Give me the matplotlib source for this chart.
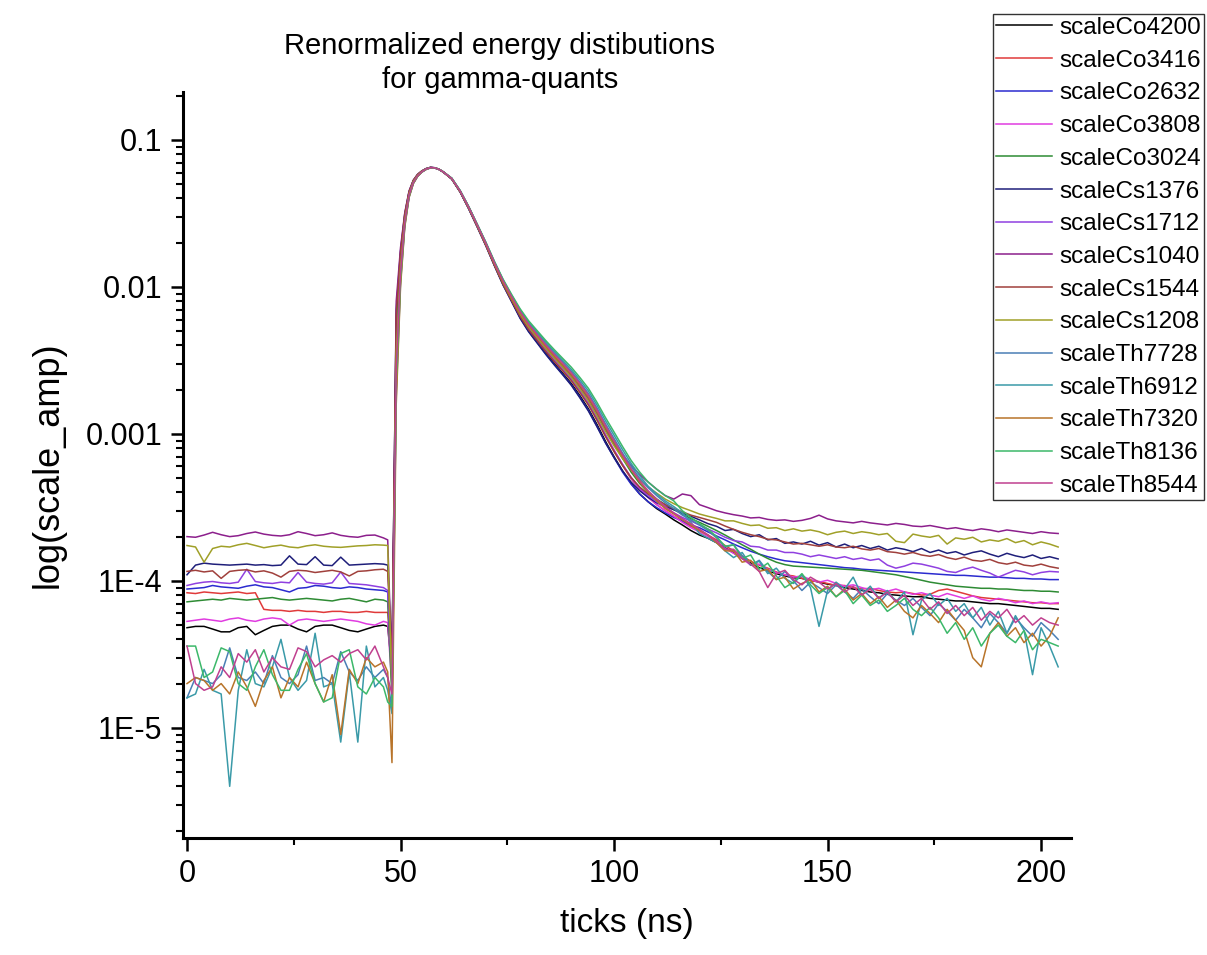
import numpy as np
import matplotlib
matplotlib.use('Agg')
import matplotlib.pyplot as plt
from matplotlib.ticker import FixedLocator, FixedFormatter, LogLocator, NullFormatter, MultipleLocator

plt.rcParams['font.family'] = ['Liberation Sans', 'DejaVu Sans']

# time axis: baseline every 2 ns, pulse every 1 ns, tail every 2 ns
ticks_ns = list(range(0, 47, 2)) + list(range(47, 61)) + list(range(62, 205, 2))

# amplitudes below are in units of 1e-5
UNIT = 1e-5

co4200 = [4.8, 4.9, 4.9, 4.7, 4.5, 4.5, 4.8, 4.9, 4.3, 4.6, 4.9, 5.0, 5.0, 4.7, 4.5, 4.9, 5.0, 5.0, 4.8, 4.6, 4.5, 4.7, 4.9, 5.0,
          4.9, 2.5,
          420, 1400, 2800, 4250, 5150, 5700, 6080, 6330, 6470, 6460, 6310, 6060,
          5420, 4420, 3420, 2580, 1930, 1410, 1050, 810, 625, 505, 425, 356, 302, 258, 220, 182, 148, 116, 89, 70,
          56, 46, 39, 34.5, 31, 28.5, 26, 24, 22, 20.5,
          19.5, 18.2, 16.8, 15.5, 14.2, 13.2, 12.3, 11.7, 11.2, 10.8, 10.5, 10.4, 10.1, 9.8, 9.5, 9.3, 9.0, 8.8, 8.6, 8.4,
          8.3, 8.1, 8.0, 7.9, 7.8, 7.8, 7.6, 7.5, 7.4, 7.3, 7.3, 7.2, 7.1, 7.0, 7.0, 6.9, 6.8, 6.7, 6.6, 6.5, 6.5, 6.4]
co3416 = [8.3, 8.2, 8.4, 8.3, 8.2, 8.3, 8.4, 8.2, 8.3, 6.4, 6.3, 6.3, 6.2, 6.3, 6.2, 6.2, 6.1, 6.2, 6.2, 6.1, 6.1, 6.2, 6.1, 6.1,
          6.1, 2.8,
          380, 1350, 2750, 4200, 5150, 5720, 6090, 6340, 6480, 6450, 6300, 6040,
          5430, 4430, 3430, 2590, 1940, 1420, 1060, 820, 640, 520, 440, 370, 316, 272, 233, 194, 160, 126, 97, 76,
          61, 49.5, 42, 37, 33, 30, 27.5, 25.5, 23.5, 22,
          20.5, 19.0, 17.4, 16.0, 14.8, 13.6, 12.8, 12.2, 11.5, 11.0, 10.8, 10.4, 10.0, 9.9, 9.6, 9.3, 9.3, 9.0, 8.8, 8.9,
          8.6, 8.4, 8.3, 8.4, 8.2, 8.0, 8.1, 8.6, 8.8, 8.5, 8.2, 7.9, 7.7, 7.6, 7.5, 7.4, 7.3, 7.2, 7.1, 7.1, 7.0, 7.0]
co2632 = [8.8, 8.9, 9.0, 9.3, 9.1, 9.0, 8.9, 9.2, 9.4, 9.1, 9.0, 8.7, 8.4, 8.9, 9.0, 9.3, 9.2, 9.0, 8.9, 9.1, 9.0, 8.8, 8.7, 8.6,
          8.4, 2.2,
          500, 1550, 2950, 4350, 5250, 5780, 6120, 6360, 6490, 6460, 6300, 6050,
          5430, 4420, 3400, 2560, 1910, 1400, 1040, 800, 615, 498, 418, 350, 297, 254, 216, 178, 145, 113, 87, 69,
          55, 45.5, 39, 34.5, 31.5, 29, 27, 25.5, 24, 23,
          21.5, 20.2, 19.0, 17.8, 16.8, 15.9, 15.2, 14.6, 14.1, 13.7, 13.5, 13.3, 13.1, 12.9, 12.7, 12.5, 12.3, 12.2, 12.0, 11.9,
          11.8, 11.7, 11.6, 11.5, 11.4, 11.3, 11.2, 11.1, 11.0, 10.9, 10.9, 10.8, 10.7, 10.6, 10.6, 10.5, 10.4, 10.4, 10.3, 10.3, 10.2, 10.2]
co3808 = [5.3, 5.4, 5.5, 5.4, 5.3, 5.5, 5.6, 5.4, 5.3, 5.5, 5.6, 5.5, 5.0, 5.4, 5.5, 5.4, 5.3, 5.4, 5.5, 5.4, 5.3, 5.1, 5.0, 5.3,
          5.2, 1.9,
          250, 1200, 2700, 4150, 5100, 5680, 6060, 6320, 6460, 6450, 6300, 6050,
          5440, 4440, 3440, 2600, 1950, 1430, 1070, 830, 648, 528, 446, 376, 321, 276, 236, 197, 162, 128, 99, 78,
          62, 50, 42, 37, 33, 30, 27.5, 25, 23, 21.5,
          20.0, 18.4, 16.6, 15.4, 14.2, 12.8, 13.0, 12.0, 11.4, 11.0, 10.6, 10.8, 10.2, 9.8, 10.1, 9.6, 9.2, 9.4, 9.0, 8.7,
          8.9, 8.5, 8.8, 8.4, 8.1, 8.3, 8.0, 7.8, 8.2, 7.9, 7.6, 7.9, 7.5, 7.3, 7.6, 7.4, 7.1, 7.3, 7.0, 7.2, 7.0, 7.1]
co3024 = [7.2, 7.3, 7.4, 7.5, 7.4, 7.6, 7.5, 7.4, 7.5, 7.6, 7.7, 7.5, 7.4, 7.5, 7.6, 7.5, 7.4, 7.3, 7.5, 7.6, 7.4, 7.2, 7.5, 7.4,
          7.2, 1.6,
          600, 1650, 3050, 4400, 5280, 5800, 6130, 6370, 6500, 6470, 6320, 6060,
          5460, 4470, 3470, 2620, 1970, 1450, 1090, 850, 665, 545, 462, 392, 336, 290, 250, 210, 174, 138, 107, 85,
          68, 55, 46, 40, 36, 33, 30.5, 28.5, 26.5, 25,
          23.5, 22.0, 20.5, 19.0, 17.6, 16.4, 15.2, 14.2, 13.4, 12.9, 12.6, 12.5, 12.4, 12.3, 12.2, 12.1, 12.0, 11.9, 11.8, 11.6,
          11.4, 11.2, 11.0, 10.7, 10.4, 10.1, 9.8, 9.6, 9.4, 9.2, 9.1, 9.0, 8.9, 8.9, 8.8, 8.8, 8.7, 8.6, 8.6, 8.5, 8.5, 8.4]
cs1376 = [11.0, 12.8, 13.2, 13.0, 12.9, 12.8, 12.9, 13.0, 12.8, 12.9, 12.7, 12.8, 14.8, 13.0, 12.9, 14.6, 12.8, 12.7, 14.5, 12.8, 12.9, 13.0, 13.1, 13.0,
          12.8, 3.0,
          700, 1750, 3150, 4450, 5300, 5820, 6150, 6380, 6500, 6460, 6310, 6050,
          5420, 4400, 3380, 2540, 1900, 1390, 1030, 795, 612, 495, 415, 348, 295, 252, 214, 176, 143, 112, 87, 69,
          56, 47, 41, 37, 34, 32, 30.5, 29, 27.5, 26,
          24.5, 23.5, 22.0, 22.4, 21.0, 20.0, 20.6, 19.0, 19.4, 18.0, 18.4, 17.8, 18.6, 17.5, 18.2, 17.0, 17.8, 16.8, 17.4, 16.6,
          17.2, 16.2, 16.8, 16.4, 15.8, 16.6, 15.6, 16.2, 15.4, 15.8, 15.0, 15.6, 16.0, 15.2, 14.6, 15.4, 14.8, 14.4, 15.0, 14.2, 14.6, 14.1]
cs1712 = [9.3, 9.6, 9.8, 9.9, 9.7, 9.6, 9.8, 12.0, 9.9, 9.7, 9.6, 9.8, 9.7, 11.4, 9.8, 9.6, 9.5, 9.7, 11.5, 9.6, 9.5, 9.4, 9.2, 9.0,
          8.6, 2.1,
          300, 1300, 2800, 4250, 5180, 5730, 6100, 6350, 6480, 6460, 6310, 6060,
          5440, 4430, 3420, 2580, 1930, 1420, 1060, 820, 640, 522, 442, 372, 318, 274, 235, 196, 161, 127, 98, 77,
          62, 50.5, 43, 38, 34.5, 31.5, 29, 27, 25.5, 24,
          22.5, 21.2, 19.8, 18.8, 18.4, 17.2, 17.0, 16.2, 16.2, 15.6, 15.6, 15.2, 14.6, 15.0, 14.6, 14.2, 14.6, 14.0, 14.3, 13.8,
          14.1, 12.8, 12.2, 12.6, 13.2, 13.0, 12.6, 12.2, 11.6, 11.4, 12.0, 12.4, 11.8, 11.3, 10.6, 11.2, 11.8, 11.5, 11.0, 11.4, 11.6, 11.5]
cs1040 = [20.0, 19.8, 20.5, 21.4, 20.6, 20.0, 20.3, 21.0, 21.5, 20.8, 20.4, 20.2, 20.6, 21.6, 21.0, 20.3, 20.6, 21.2, 20.4, 20.0, 19.8, 20.4, 20.5, 19.6,
          19.0, 2.4,
          800, 1850, 3200, 4500, 5330, 5840, 6160, 6390, 6510, 6470, 6320, 6060,
          5460, 4460, 3460, 2610, 1960, 1440, 1080, 840, 660, 540, 458, 388, 333, 288, 248, 208, 173, 138, 108, 87,
          72, 61, 53, 47, 42, 38, 36, 39, 38, 33,
          31.5, 30.0, 29.0, 28.2, 27.6, 26.8, 27.0, 26.2, 25.8, 26.0, 25.4, 25.8, 26.6, 28.0, 26.4, 25.6, 25.2, 24.8, 25.4, 24.8,
          24.4, 24.0, 24.6, 24.2, 23.6, 23.4, 23.8, 23.2, 22.6, 23.0, 22.4, 22.0, 22.6, 22.2, 21.6, 22.2, 21.8, 21.4, 21.0, 21.6, 21.2, 21.0]
cs1544 = [11.6, 11.8, 11.5, 11.7, 10.4, 11.6, 11.8, 11.9, 11.5, 11.7, 11.3, 10.6, 11.6, 11.8, 11.7, 11.4, 11.6, 11.8, 11.5, 10.8, 11.6, 11.7, 11.9, 12.0,
          11.6, 2.7,
          650, 1700, 3100, 4420, 5290, 5810, 6140, 6370, 6490, 6450, 6300, 6040,
          5420, 4410, 3400, 2560, 1910, 1400, 1045, 808, 630, 512, 432, 364, 311, 268, 230, 191, 157, 124, 96, 76,
          61, 50.5, 43.5, 39, 35.5, 33, 31, 29.5, 28, 27,
          26.0, 25.0, 23.6, 22.4, 21.4, 20.6, 20.0, 19.2, 19.0, 18.4, 17.8, 18.0, 17.6, 17.2, 17.6, 17.0, 16.8, 17.2, 16.5, 16.2,
          16.6, 15.8, 15.6, 15.2, 15.6, 15.0, 14.7, 15.1, 14.4, 14.0, 14.5, 13.8, 13.6, 14.0, 13.3, 13.0, 13.4, 12.8, 12.6, 13.0, 12.5, 12.2]
cs1208 = [17.4, 17.0, 13.4, 16.6, 17.2, 17.0, 17.6, 18.0, 17.4, 16.8, 17.2, 17.5, 17.0, 16.8, 17.3, 17.6, 17.2, 17.0, 16.9, 17.1, 17.3, 17.4, 17.6, 17.5,
          17.4, 1.8,
          350, 1350, 2850, 4280, 5200, 5750, 6100, 6350, 6480, 6460, 6310, 6060,
          5450, 4450, 3450, 2600, 1950, 1435, 1075, 835, 655, 535, 453, 383, 328, 283, 243, 203, 168, 133, 104, 83,
          68, 57, 49, 43.5, 39.5, 36, 33.5, 31.5, 30, 28.5,
          27.5, 26.6, 25.6, 25.6, 24.6, 23.8, 24.0, 22.8, 23.0, 22.0, 22.6, 21.8, 22.2, 21.6, 20.6, 21.4, 21.8, 21.0, 21.6, 21.2,
          20.6, 21.0, 18.6, 18.2, 20.8, 20.2, 19.8, 20.4, 17.8, 19.6, 19.2, 19.8, 18.4, 19.0, 18.6, 19.4, 18.2, 18.8, 17.6, 18.4, 17.8, 17.0]
th7728 = [1.6, 2.2, 2.1, 2.0, 2.3, 3.5, 2.2, 2.1, 2.4, 2.0, 3.1, 2.2, 2.0, 2.3, 3.6, 2.1, 2.2, 2.0, 3.3, 2.4, 2.1, 2.6, 2.2, 2.5,
          2.2, 1.3,
          200, 1100, 2650, 4100, 5080, 5660, 6050, 6310, 6460, 6450, 6310, 6070,
          5480, 4490, 3490, 2640, 1990, 1470, 1110, 870, 690, 568, 484, 412, 355, 308, 266, 225, 188, 150, 117, 93,
          74, 60, 50, 43, 38, 34, 31, 28, 26, 24,
          22.0, 19.6, 17.0, 17.6, 14.8, 12.8, 13.8, 11.6, 10.2, 11.6, 10.0, 8.6, 9.8, 9.0, 8.2, 9.4, 8.4, 7.6, 8.8, 7.8,
          7.0, 8.2, 7.4, 6.8, 7.6, 6.6, 5.8, 7.0, 6.2, 5.4, 6.4, 5.6, 4.8, 6.0, 5.2, 4.4, 5.6, 4.8, 4.2, 5.2, 4.6, 4.0]
th6912 = [1.6, 1.7, 2.5, 1.8, 1.7, 0.4, 1.8, 3.4, 2.0, 1.9, 2.6, 4.0, 2.2, 1.8, 2.1, 4.4, 1.9, 2.0, 0.8, 2.4, 0.8, 3.6, 1.9, 2.2,
          1.8, 1.25,
          180, 1050, 2600, 4080, 5060, 5650, 6040, 6300, 6450, 6440, 6300, 6070,
          5490, 4500, 3500, 2650, 2000, 1480, 1120, 880, 700, 578, 494, 422, 364, 316, 274, 233, 196, 157, 123, 98,
          78, 63, 52, 44, 39, 35, 32, 29, 25, 21,
          19.5, 18.2, 16.0, 14.4, 15.6, 12.8, 13.6, 11.2, 12.2, 10.4, 9.6, 11.0, 9.0, 4.9, 8.6, 9.8, 8.8, 10.6, 8.0, 9.2,
          7.6, 8.6, 7.2, 8.4, 4.3, 7.4, 8.2, 6.8, 7.6, 6.2, 7.0, 5.6, 6.6, 5.0, 6.2, 4.4, 5.8, 4.6, 2.3, 4.8, 3.6, 2.6]
th7320 = [2.0, 2.2, 2.1, 1.8, 2.0, 1.7, 2.4, 1.9, 1.4, 2.1, 2.6, 1.6, 2.2, 1.9, 2.8, 2.0, 1.5, 2.3, 0.9, 2.5, 2.0, 3.0, 2.6, 2.8,
          2.4, 0.58,
          160, 1000, 2550, 4050, 5040, 5640, 6040, 6300, 6450, 6450, 6310, 6070,
          5470, 4470, 3470, 2620, 1970, 1450, 1090, 850, 670, 550, 466, 396, 340, 294, 254, 214, 178, 142, 111, 88,
          70, 57, 47, 40, 35, 31, 28.5, 26, 24, 22,
          20.5, 18.2, 16.0, 16.0, 13.4, 13.8, 11.6, 12.0, 10.2, 10.6, 8.8, 9.6, 10.2, 8.4, 9.2, 7.8, 8.8, 7.4, 8.2, 7.0,
          7.8, 6.6, 7.4, 6.2, 5.6, 6.8, 6.0, 5.2, 6.4, 5.4, 4.6, 3.0, 2.6, 4.4, 5.2, 4.2, 4.8, 3.8, 4.4, 3.6, 4.2, 5.6]
th8136 = [3.6, 3.6, 2.2, 2.4, 3.5, 3.3, 2.0, 1.8, 2.6, 3.4, 2.3, 1.8, 1.8, 2.5, 3.2, 2.0, 1.5, 1.6, 3.2, 3.4, 1.9, 1.7, 2.2, 1.9,
          1.5, 1.4,
          230, 1150, 2700, 4150, 5100, 5680, 6060, 6320, 6470, 6460, 6320, 6080,
          5500, 4510, 3510, 2660, 2010, 1490, 1130, 890, 710, 588, 504, 432, 374, 326, 284, 242, 204, 164, 129, 103,
          82, 66, 55, 47, 42, 38, 35, 30, 27, 24.5,
          22.5, 20.0, 17.2, 17.6, 14.2, 15.0, 12.0, 13.2, 10.8, 9.0, 9.8, 11.2, 9.4, 8.2, 9.0, 7.8, 8.6, 7.0, 8.0, 6.8,
          7.4, 6.2, 6.8, 7.6, 6.4, 5.8, 6.6, 5.6, 4.4, 5.2, 4.0, 4.8, 3.6, 4.4, 5.0, 4.2, 3.8, 4.6, 3.4, 4.0, 3.8, 3.6]
th8544 = [3.6, 2.0, 1.8, 1.9, 2.6, 2.2, 3.2, 2.8, 3.4, 2.4, 3.0, 2.6, 2.5, 3.5, 3.3, 2.6, 2.9, 3.1, 2.8, 3.2, 3.4, 2.9, 3.6, 2.6,
          2.2, 1.7,
          280, 1250, 2750, 4200, 5120, 5700, 6070, 6330, 6470, 6460, 6310, 6070,
          5470, 4480, 3480, 2630, 1980, 1460, 1100, 860, 680, 558, 474, 404, 348, 302, 260, 220, 183, 146, 114, 90,
          72, 58, 48, 41, 36, 32, 29, 26.5, 24.5, 22.5,
          20.5, 18.6, 16.4, 16.4, 14.2, 13.0, 11.6, 9.0, 11.2, 11.8, 10.2, 9.4, 10.6, 9.8, 8.8, 9.6, 8.4, 9.2, 8.0, 8.8,
          7.6, 8.4, 7.2, 8.0, 6.8, 7.6, 6.4, 7.2, 6.0, 6.8, 5.8, 6.6, 5.4, 6.2, 5.6, 6.4, 5.2, 5.8, 5.0, 5.6, 5.2, 5.0]

labels = ['scaleCo4200', 'scaleCo3416', 'scaleCo2632', 'scaleCo3808', 'scaleCo3024',
          'scaleCs1376', 'scaleCs1712', 'scaleCs1040', 'scaleCs1544', 'scaleCs1208',
          'scaleTh7728', 'scaleTh6912', 'scaleTh7320', 'scaleTh8136', 'scaleTh8544']
values = [co4200, co3416, co2632, co3808, co3024,
          cs1376, cs1712, cs1040, cs1544, cs1208,
          th7728, th6912, th7320, th8136, th8544]
colors = ['#000000', '#e03a3a', '#2b2bcf', '#e03ce0', '#2e8b34',
          '#1f1f7a', '#9040e0', '#8c1f8c', '#a0403c', '#a0a028',
          '#4a7fb5', '#3a9aa8', '#b8742a', '#3cb86a', '#c0408f']

fig = plt.figure(figsize=(12.07, 9.55), dpi=100)
ax = fig.add_axes([0.1516, 0.1225, 0.7357, 0.7812])

for lab, vals, col in zip(labels, values, colors):
    assert len(vals) == len(ticks_ns), (lab, len(vals))
    ax.plot(ticks_ns, np.array(vals) * UNIT, color=col, lw=1.1, label=lab)

ax.set_yscale('log')
ax.set_ylim(1.78e-6, 0.212)
ax.set_xlim(-0.94, 207)

ax.spines['top'].set_visible(False)
ax.spines['right'].set_visible(False)
for s in ['left', 'bottom']:
    ax.spines[s].set_linewidth(2.2)

ax.yaxis.set_major_locator(FixedLocator([1e-5, 1e-4, 1e-3, 1e-2, 1e-1]))
ax.yaxis.set_major_formatter(FixedFormatter(['1E-5', '1E-4', '0.001', '0.01', '0.1']))
ax.yaxis.set_minor_locator(LogLocator(base=10, subs=np.arange(2, 10), numticks=30))
ax.yaxis.set_minor_formatter(NullFormatter())
ax.xaxis.set_major_locator(MultipleLocator(50))
ax.xaxis.set_minor_locator(MultipleLocator(25))

ax.tick_params(which='major', direction='out', length=9, width=1.8, labelsize=22, pad=6)
ax.tick_params(which='minor', direction='out', length=5, width=1.5)

ax.set_xlabel('ticks (ns)', fontsize=24, labelpad=14)
ax.set_ylabel('log(scale_amp)', fontsize=26, labelpad=14)

# two-line title, slightly left of the axes centre
fig.text(0.414, 0.9435, 'Renormalized energy distibutions', ha='center', va='baseline', fontsize=21)
fig.text(0.414, 0.9079, 'for gamma-quants', ha='center', va='baseline', fontsize=21)

leg = ax.legend(loc='upper left', bbox_to_anchor=(0.8227, 0.9853), bbox_transform=fig.transFigure,
                fontsize=17.5, frameon=True, fancybox=False, borderaxespad=0, borderpad=0.12,
                handlelength=2.3, handletextpad=0.3, labelspacing=0.44)
leg.get_frame().set_edgecolor('black')
leg.get_frame().set_linewidth(1.0)

fig.savefig('out.png', dpi=100)
